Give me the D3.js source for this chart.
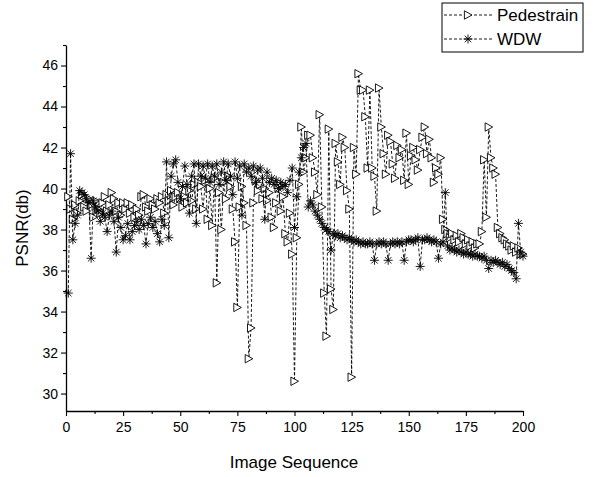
<!DOCTYPE html>
<html>
<head>
<meta charset="utf-8">
<script src="https://cdn.jsdelivr.net/npm/d3@7"></script>
<style>
  body { margin: 0; background: white; }
  svg { font-family: "Liberation Sans", Arial, sans-serif; }
</style>
</head>
<body>
<div id="container"></div>
<script>
let w = 604;
let h = 477;

// PSNR values per image, image 1..200
let pedestrain = [
  39.6, 39.0, 38.5, 39.2, 38.8, 39.4, 39.7, 39.1, 38.9, 39.5,
  39.2, 38.6, 39.4, 39.0, 38.8, 39.3, 39.6, 38.9, 39.2, 39.8,
  39.5, 38.9, 39.3, 38.7, 39.3, 39.0, 39.3, 38.8, 39.2, 38.6,
  39.0, 38.7, 39.6, 39.7, 39.1, 38.9, 39.5, 39.2, 39.0, 39.5,
  39.3, 39.6, 38.8, 39.7, 39.4, 39.9, 39.2, 39.6, 39.8, 39.5,
  39.1, 39.6, 39.3, 39.9, 39.4, 40.2, 39.0, 40.3, 40.1, 39.0,
  40.4, 38.5, 40.0, 38.2, 40.5, 35.4, 39.8, 38.0, 40.3, 39.5,
  40.6, 40.1, 39.0, 37.4, 34.2, 39.1, 40.1, 39.3, 38.2, 31.7,
  33.2, 39.3, 40.4, 39.9, 40.2, 39.5, 40.0, 39.4, 39.8, 38.6,
  38.1, 39.3, 40.0, 38.9, 39.6, 37.8, 37.4, 38.8, 36.8, 30.6,
  37.6, 40.2, 43.0, 40.8, 41.5, 42.6, 42.6, 41.5, 40.8, 39.7,
  43.6, 39.1, 34.9, 32.8, 42.9, 35.1, 34.1, 42.2, 41.3, 40.2,
  42.5, 42.0, 39.9, 39.0, 30.8, 42.0, 40.7, 45.6, 44.8, 44.8,
  43.5, 41.0, 44.8, 41.0, 40.6, 38.9, 44.9, 43.0, 41.7, 40.7,
  42.6, 42.3, 41.2, 40.5, 42.1, 41.5, 41.9, 40.4, 42.7, 40.2,
  41.6, 42.0, 41.4, 40.9, 41.9, 42.5, 43.0, 41.7, 42.4, 41.5,
  40.3, 41.0, 40.7, 41.5, 38.5, 38.0, 37.8, 37.6, 37.8, 37.5,
  37.7, 37.4, 37.8, 37.6, 37.3, 37.5, 37.2, 37.4, 37.1, 37.3,
  37.3, 37.9, 41.4, 38.6, 43.0, 41.5, 41.0, 40.7, 38.1, 37.8,
  37.6, 37.5, 37.3, 37.2, 37.0, 37.2, 36.9, 37.1, 36.8, 36.8
];
let wdw = [
  34.9, 41.7, 37.5, 38.3, 38.7, 39.9, 39.8, 39.7, 39.5, 39.3,
  36.6, 39.4, 39.1, 38.9, 38.4, 38.8, 38.6, 37.9, 38.7, 38.9,
  38.4, 36.9, 38.6, 38.1, 37.5, 37.7, 38.3, 37.5, 37.9, 38.2,
  38.4, 38.0, 38.5, 38.2, 37.3, 38.3, 38.6, 38.1, 38.4, 37.8,
  37.4, 38.5, 38.2, 41.3, 37.6, 40.6, 41.2, 41.4, 40.3, 39.5,
  40.1, 41.1, 40.2, 38.8, 40.6, 41.2, 38.3, 41.2, 40.6, 41.1,
  40.5, 41.2, 40.3, 41.1, 40.6, 41.2, 40.2, 40.8, 41.3, 40.4,
  41.2, 40.6, 39.7, 41.3, 40.5, 41.1, 38.7, 41.2, 40.8, 41.0,
  40.6, 41.1, 40.3, 40.9, 41.0, 40.5, 38.5, 40.8, 40.3, 40.5,
  40.2, 40.4, 40.0, 40.3, 40.1, 40.2, 39.8, 40.4, 41.0, 38.1,
  39.6, 40.8, 41.5, 42.0, 42.2, 39.1, 39.4, 39.2, 38.9, 38.7,
  38.5, 38.3, 38.1, 38.0, 37.9, 37.0, 37.8, 37.7, 37.8, 37.6,
  37.7, 37.6, 37.5, 37.6, 37.5, 37.4, 37.5, 37.4, 37.3, 37.4,
  37.3, 37.3, 37.4, 37.3, 36.5, 37.3, 37.4, 37.3, 37.4, 37.3,
  36.5, 37.3, 37.4, 37.3, 37.4, 37.3, 37.4, 36.5, 37.4, 37.5,
  37.5, 37.4, 37.5, 37.6, 36.2, 37.5, 37.5, 37.6, 37.5, 37.4,
  37.5, 37.4, 36.6, 37.3, 37.4, 39.8, 37.2, 37.0, 37.1, 37.0,
  36.9, 37.0, 36.9, 36.8, 36.9, 36.8, 36.8, 36.7, 36.8, 36.7,
  36.7, 36.6, 36.7, 36.5, 36.1, 36.5, 36.4, 36.5, 36.4, 36.3,
  36.4, 36.2, 36.3, 36.1, 36.0, 35.9, 35.6, 38.3, 36.9, 36.7
];
let xTicks = [0, 25, 50, 75, 100, 125, 150, 175, 200];
let xMinor = [12.5, 37.5, 62.5, 87.5, 112.5, 137.5, 162.5, 187.5];
let yTicks = [30, 32, 34, 36, 38, 40, 42, 44, 46];
let yMinor = [31, 33, 35, 37, 39, 41, 43, 45, 47];
let seriesNames = ["Pedestrain", "WDW"];

let viz = d3.select("#container").append("svg")
    .attr("width", w)
    .attr("height", h);

let x = d3.scaleLinear().domain([0, 200]).range([66, 523]);
let y = d3.scaleLinear().domain([29.15, 47]).range([411, 45]);

// axes
let xAxis = viz.append("g").attr("transform", "translate(0,411)")
    .call(d3.axisBottom(x).tickValues(xTicks).tickSize(5).tickSizeOuter(0).tickPadding(6));
viz.append("g").attr("transform", "translate(0,411)")
    .call(d3.axisBottom(x).tickValues(xMinor).tickSize(3).tickFormat("").tickSizeOuter(0))
    .select(".domain").remove();
let yAxis = viz.append("g").attr("transform", "translate(66,0)")
    .call(d3.axisLeft(y).tickValues(yTicks).tickSize(5).tickSizeOuter(0).tickPadding(3));
viz.append("g").attr("transform", "translate(66,0)")
    .call(d3.axisLeft(y).tickValues(yMinor).tickSize(3).tickFormat("").tickSizeOuter(0))
    .select(".domain").remove();

viz.selectAll(".tick text").attr("font-size", 14).attr("font-family", "Liberation Sans, Arial, sans-serif").attr("fill", "black");
viz.selectAll(".domain").attr("stroke-width", 1.3);
viz.selectAll(".tick line").attr("stroke-width", 1.1);

viz.append("text")
    .text("Image Sequence")
    .attr("x", 294)
    .attr("y", 468)
    .attr("text-anchor", "middle")
    .attr("font-size", 17);
viz.append("text")
    .text("PSNR(db)")
    .attr("transform", "translate(28,228) rotate(-90)")
    .attr("text-anchor", "middle")
    .attr("font-size", 17);

// markers
let triPath = "M-3.6,-4.2L4,0L-3.6,4.2Z";
function drawStar(g, r) {
  g.append("line").attr("x1", 0).attr("y1", -r).attr("x2", 0).attr("y2", r);
  g.append("line").attr("x1", -r).attr("y1", 0).attr("x2", r).attr("y2", 0);
  g.append("line").attr("x1", -r*0.72).attr("y1", -r*0.72).attr("x2", r*0.72).attr("y2", r*0.72);
  g.append("line").attr("x1", -r*0.72).attr("y1", r*0.72).attr("x2", r*0.72).attr("y2", -r*0.72);
  g.selectAll("line").attr("stroke", "black").attr("stroke-width", 0.9);
}

let line = d3.line().x((d, i) => x(i + 1)).y(d => y(d));

let plot = viz.append("g");

plot.append("path").datum(pedestrain)
    .attr("d", line)
    .attr("fill", "none")
    .attr("stroke", "black")
    .attr("stroke-width", 0.9)
    .attr("stroke-dasharray", "3,2");
plot.selectAll(".tri").data(pedestrain).enter()
    .append("path")
    .attr("class", "tri")
    .attr("d", triPath)
    .attr("transform", (d, i) => "translate(" + x(i + 1) + "," + y(d) + ")")
    .attr("fill", "white")
    .attr("stroke", "black")
    .attr("stroke-width", 0.9);

plot.append("path").datum(wdw)
    .attr("d", line)
    .attr("fill", "none")
    .attr("stroke", "black")
    .attr("stroke-width", 0.9)
    .attr("stroke-dasharray", "3,2");
plot.selectAll(".star").data(wdw).enter()
    .append("g")
    .attr("class", "star")
    .attr("transform", (d, i) => "translate(" + x(i + 1) + "," + y(d) + ")")
    .each(function() { drawStar(d3.select(this), 4.5); });

// legend
let legend = viz.append("g");
legend.append("rect")
    .attr("x", 442).attr("y", 3)
    .attr("width", 141).attr("height", 49)
    .attr("fill", "white").attr("stroke", "black").attr("stroke-width", 1);
seriesNames.forEach(function(name, k) {
  let ly = 15 + k * 24;
  legend.append("line")
      .attr("x1", 444).attr("x2", 492)
      .attr("y1", ly).attr("y2", ly)
      .attr("stroke", "black").attr("stroke-width", 0.9)
      .attr("stroke-dasharray", "3,2");
  let m = legend.append("g").attr("transform", "translate(468," + ly + ")");
  if (k == 0) {
    m.append("path").attr("d", triPath).attr("fill", "white").attr("stroke", "black").attr("stroke-width", 0.9);
  } else {
    drawStar(m, 4.5);
  }
  legend.append("text")
      .text(name)
      .attr("x", 497)
      .attr("y", ly + 6)
      .attr("font-size", 17);
});
</script>
</body>
</html>
